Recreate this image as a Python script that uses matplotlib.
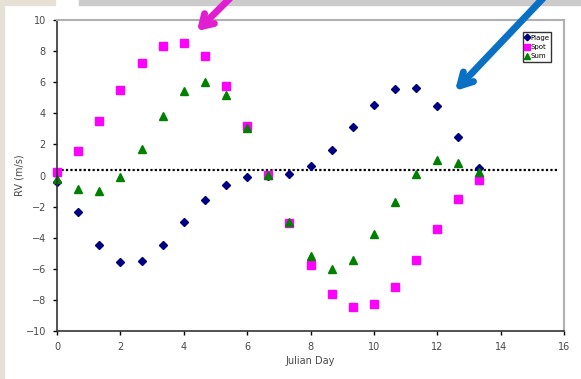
import matplotlib
matplotlib.use('Agg')
import matplotlib.pyplot as plt
from matplotlib.patches import Rectangle, FancyArrowPatch

# Julian day of each observation
days = [0, 0.67, 1.33, 2, 2.67, 3.33, 4, 4.67, 5.33, 6, 6.67, 7.33,
        8, 8.67, 9.33, 10, 10.67, 11.33, 12, 12.67, 13.33]

plage = [-0.42, -2.35, -4.45, -5.56, -5.52, -4.49, -3.01, -1.58, -0.61, -0.12, 0.0, 0.1,
         0.63, 1.64, 3.1, 4.55, 5.56, 5.6, 4.49, 2.46, 0.5]
spot = [0.25, 1.58, 3.52, 5.5, 7.25, 8.35, 8.54, 7.66, 5.77, 3.18, 0.03, -3.03,
        -5.76, -7.62, -8.44, -8.26, -7.15, -5.43, -3.42, -1.51, -0.29]
total = [-0.25, -0.88, -1.02, -0.08, 1.7, 3.83, 5.45, 6.03, 5.18, 3.03, 0.03, -2.97,
         -5.18, -6.01, -5.43, -3.76, -1.68, 0.1, 1.0, 0.82, 0.25]

ref_level = 0.35

fig = plt.figure(figsize=(5.81, 3.79), dpi=100)
fig.patch.set_facecolor('white')

# slide decorations: beige edge and gray bar at the top
fig.patches.append(Rectangle((0, 0), 4 / 581, 1, transform=fig.transFigure,
                             color='#e6e0d5', zorder=0))
fig.patches.append(Rectangle((0, 1 - 5 / 379), 55 / 581, 5 / 379, transform=fig.transFigure,
                             color='#e6e0d5', zorder=0))
fig.patches.append(Rectangle((79 / 581, 1 - 5 / 379), 1, 5 / 379, transform=fig.transFigure,
                             color='#cbcbcb', zorder=0))

ax = fig.add_axes([57 / 581, 48 / 379, 507 / 581, 311 / 379])

ax.plot([0, 15.8], [ref_level, ref_level], color='black', linestyle=(0, (1, 1)), linewidth=1.6)
ax.plot(days, plage, linestyle='none', marker='D', markersize=4.2, color='#000080',
        label='Plage', clip_on=False)
ax.plot(days, spot, linestyle='none', marker='s', markersize=5.5, color='#ff00ff',
        label='Spot', clip_on=False)
ax.plot(days, total, linestyle='none', marker='^', markersize=5.2, color='#008000',
        label='Sum', clip_on=False)

ax.set_xlim(0, 16)
ax.set_ylim(-10, 10)
ax.set_xticks(range(0, 17, 2))
ax.set_yticks(range(-10, 11, 2))
ax.tick_params(direction='out', length=3, width=1, labelsize=7, labelcolor='#4a4a4a', pad=5)
ax.spines['left'].set_color('#333333')
ax.spines['bottom'].set_color('#333333')
ax.spines['left'].set_linewidth(1.2)
ax.spines['bottom'].set_linewidth(1.2)
ax.spines['top'].set_color('#b0b0b0')
ax.spines['right'].set_color('#b0b0b0')
ax.spines['top'].set_linewidth(1.5)
ax.spines['right'].set_linewidth(1.5)
ax.set_xlabel('Julian Day', fontsize=7, color='#4a4a4a', labelpad=3)
ax.set_ylabel('RV (m/s)', fontsize=7, color='#4a4a4a', labelpad=1)

handles, labels = ax.get_legend_handles_labels()
leg = ax.legend(handles[0:3], labels[0:3], loc='upper right', bbox_to_anchor=(0.975, 0.96),
                fontsize=5, frameon=True, fancybox=False, edgecolor='black',
                handlelength=0.6, handletextpad=0.2, borderpad=0.3, labelspacing=0.5,
                markerscale=0.8, borderaxespad=0)
leg.get_frame().set_linewidth(1)

# the two pointer arrows drawn over the slide
fig.patches.append(FancyArrowPatch(
    (232 / 581, 1.01), (195 / 581, 1 - 33 / 379), transform=fig.transFigure,
    arrowstyle='->,head_length=8,head_width=5', color='#e020d0', lw=5, zorder=5))
fig.patches.append(FancyArrowPatch(
    (545 / 581, 1.01), (453 / 581, 1 - 93 / 379), transform=fig.transFigure,
    arrowstyle='->,head_length=9,head_width=5', color='#0a70c4', lw=5, zorder=5))

fig.savefig('out.png', dpi=100)
